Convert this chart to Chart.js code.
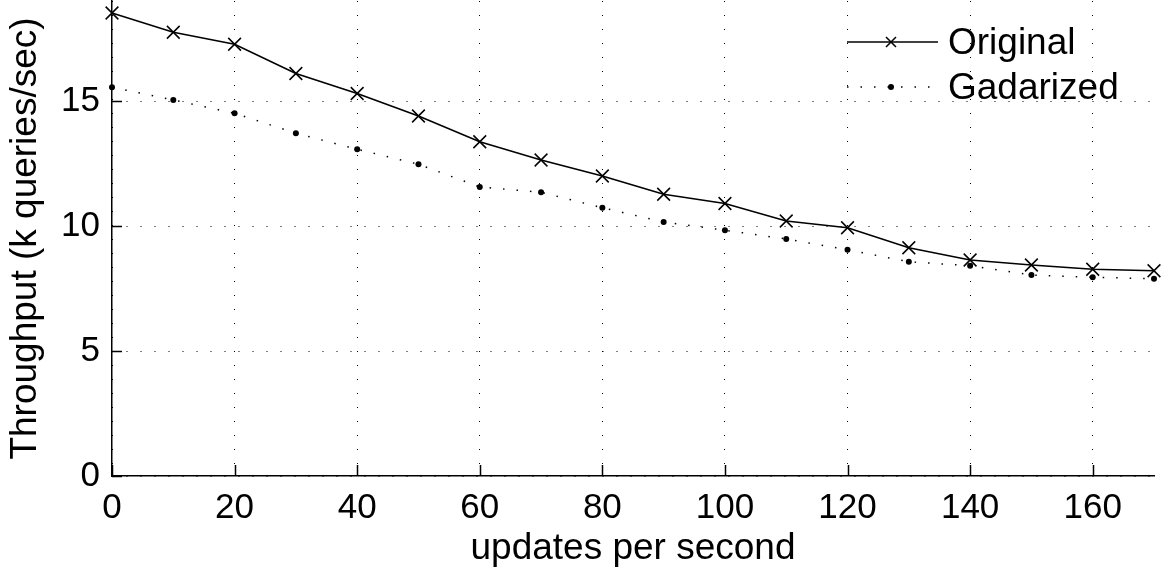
<!DOCTYPE html>
<html>
<head>
<meta charset="utf-8">
<script src="https://cdn.jsdelivr.net/npm/chart.js@4/dist/chart.umd.min.js"></script>
<style>
  html, body { margin: 0; padding: 0; background: #fff; }
  #wrap { position: relative; width: 1168px; height: 571px; }
  canvas { display: block; }
</style>
</head>
<body>
<div id="wrap"><canvas id="c" width="1168" height="571"></canvas></div>
<script>
// ---- data ----
const updatesPerSecond = [0, 10, 20, 30, 40, 50, 60, 70, 80, 90, 100, 110, 120, 130, 140, 150, 160, 170];
const originalThroughput = [18.52, 17.75, 17.27, 16.10, 15.30, 14.40, 13.37, 12.64, 12.00, 11.27, 10.90, 10.20, 9.93, 9.13, 8.64, 8.44, 8.27, 8.21];
const gadarizedThroughput = [15.55, 15.04, 14.51, 13.71, 13.07, 12.47, 11.56, 11.35, 10.73, 10.16, 9.83, 9.48, 9.05, 8.57, 8.41, 8.04, 7.95, 7.89];
const seriesNames = ["Original", "Gadarized"];
const xTitle = "updates per second";
const yTitle = "Throughput (k queries/sec)";
const xTicks = [0, 20, 40, 60, 80, 100, 120, 140, 160];
const yTicks = [0, 5, 10, 15];

const FONT = "'Liberation Sans', Arial, Helvetica, sans-serif";
const FS = 35;
const FS_TITLE = 37;

const toPoints = (xs, ys) => xs.map((x, i) => ({ x: x, y: ys[i] }));

function drawCross(ctx, x, y, r) {
  ctx.beginPath();
  ctx.moveTo(x - r, y - r); ctx.lineTo(x + r, y + r);
  ctx.moveTo(x - r, y + r); ctx.lineTo(x + r, y - r);
  ctx.stroke();
}

const extrasPlugin = {
  id: 'extras',
  afterDraw(chart) {
    const ctx = chart.ctx;
    const xs = chart.scales.x, ys = chart.scales.y;
    const ca = chart.chartArea;
    ctx.save();
    // inward tick marks
    ctx.strokeStyle = '#000';
    ctx.lineWidth = 1.5;
    ctx.setLineDash([]);
    ctx.beginPath();
    xTicks.forEach(v => {
      const px = Math.round(xs.getPixelForValue(v)) + 0.5;
      ctx.moveTo(px, ca.bottom);
      ctx.lineTo(px, ca.bottom - 11);
    });
    yTicks.forEach(v => {
      const py = Math.round(ys.getPixelForValue(v)) + 0.5;
      ctx.moveTo(ca.left, py);
      ctx.lineTo(ca.left + 10, py);
    });
    ctx.stroke();

    // legend
    const lx0 = 847, lx1 = 938, mx = 891, tx = 948;
    const row1 = 42, row2 = 87;
    ctx.lineWidth = 1.5;
    ctx.beginPath();
    ctx.moveTo(lx0, row1); ctx.lineTo(lx1, row1);
    ctx.stroke();
    drawCross(ctx, mx, row1, 5);

    ctx.setLineDash([1.5, 12]);
    ctx.beginPath();
    ctx.moveTo(lx0, row2); ctx.lineTo(lx1, row2);
    ctx.stroke();
    ctx.setLineDash([]);
    ctx.fillStyle = '#000';
    ctx.beginPath();
    ctx.arc(mx, row2, 3, 0, Math.PI * 2);
    ctx.fill();

    ctx.font = FS_TITLE + 'px ' + FONT;
    ctx.textAlign = 'left';
    ctx.textBaseline = 'middle';
    ctx.fillText(seriesNames[0], tx, row1 + 2);
    ctx.fillText(seriesNames[1], tx, row2 + 2);
    ctx.restore();
  }
};

new Chart(document.getElementById('c'), {
  type: 'line',
  data: {
    datasets: [
      {
        label: seriesNames[0],
        data: toPoints(updatesPerSecond, originalThroughput),
        borderColor: '#000',
        backgroundColor: '#000',
        borderWidth: 1.6,
        pointStyle: 'crossRot',
        pointRadius: 9,
        pointBorderWidth: 1.5,
        pointBorderColor: '#000',
        tension: 0,
        fill: false,
        clip: false
      },
      {
        label: seriesNames[1],
        data: toPoints(updatesPerSecond, gadarizedThroughput),
        borderColor: '#000',
        backgroundColor: '#000',
        borderWidth: 1.5,
        borderDash: [1.5, 12],
        pointStyle: 'circle',
        pointRadius: 3,
        pointBorderWidth: 0,
        pointBackgroundColor: '#000',
        tension: 0,
        fill: false,
        clip: false
      }
    ]
  },
  options: {
    responsive: false,
    animation: false,
    devicePixelRatio: 1,
    layout: { autoPadding: false, padding: { top: 1, right: 14, left: 0, bottom: 0 } },
    plugins: {
      legend: { display: false },
      tooltip: { enabled: false }
    },
    scales: {
      x: {
        type: 'linear',
        min: 0,
        max: 170,
        afterFit(scale) {
          scale.height = 95;
          scale.paddingLeft = 0; scale.paddingRight = 0;
        },
        ticks: {
          stepSize: 20,
          includeBounds: false,
          color: '#000',
          padding: 11,
          maxRotation: 0,
          font: { family: FONT, size: FS }
        },
        grid: {
          color: '#000',
          lineWidth: 1,
          drawTicks: false
        },
        border: { display: true, color: '#000', width: 1.5, dash: [1, 13] },
        title: {
          display: true,
          text: xTitle,
          color: '#000',
          padding: { top: 0, bottom: 0 },
          font: { family: FONT, size: FS_TITLE }
        }
      },
      y: {
        type: 'linear',
        min: 0,
        max: 19,
        afterFit(scale) {
          scale.width = 112;
          scale.paddingTop = 0; scale.paddingBottom = 0;
        },
        ticks: {
          stepSize: 5,
          includeBounds: false,
          color: '#000',
          padding: 12,
          font: { family: FONT, size: FS }
        },
        grid: {
          color: '#000',
          lineWidth: 1,
          drawTicks: false
        },
        border: { display: true, color: '#000', width: 1.5, dash: [1, 13] },
        title: {
          display: true,
          text: yTitle,
          color: '#000',
          padding: { top: 4, bottom: 0 },
          font: { family: FONT, size: FS_TITLE }
        }
      }
    }
  },
  plugins: [extrasPlugin]
});
</script>
</body>
</html>
